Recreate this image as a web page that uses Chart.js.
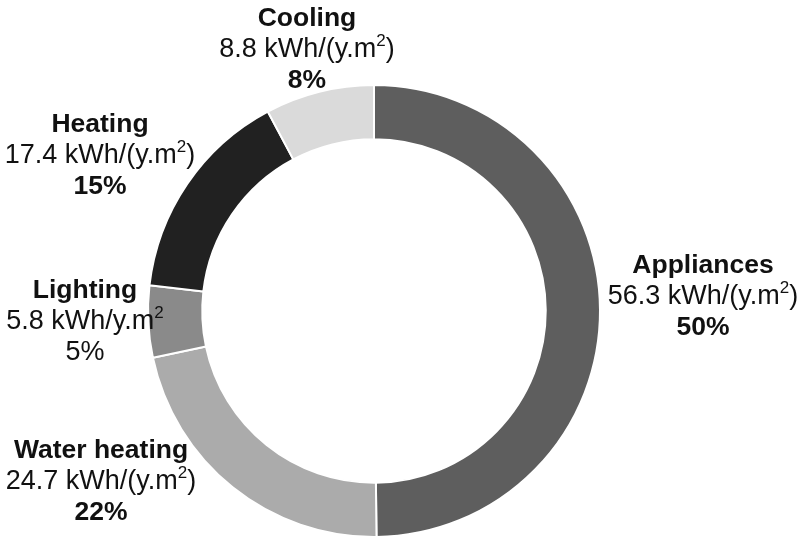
<!DOCTYPE html>
<html>
<head>
<meta charset="utf-8">
<script src="https://cdn.jsdelivr.net/npm/chart.js@4.4.1/dist/chart.umd.min.js"></script>
<style>
  html, body { margin: 0; padding: 0; background: #ffffff; }
  #wrap { width: 800px; height: 540px; position: relative; }
</style>
</head>
<body>
<div id="wrap"><canvas id="energy-chart"></canvas></div>
<script>
// Energy use by end use, kWh per year per m2
const categories = ['Appliances', 'Water heating', 'Lighting', 'Heating', 'Cooling'];
const consumption = [56.3, 24.7, 5.8, 17.4, 8.8];
const units = ['kWh/(y.m²)', 'kWh/(y.m²)', 'kWh/y.m²', 'kWh/(y.m²)', 'kWh/(y.m²)'];
const shares = ['50%', '22%', '5%', '15%', '8%'];
const shareBold = [true, true, false, true, true];
const sliceColors = ['#5e5e5e', '#ababab', '#8a8a8a', '#212121', '#dadada'];

// where each label block sits, relative to the ring centre
const labelOffsets = [[329, -38], [-273, 147], [-289, -13], [-274, -179], [-67, -285]];

const FONT = '"Liberation Sans", Arial, sans-serif';
const BOLD_SIZE = 26.5;
const TEXT_SIZE = 27;
const LINE = 31;

// draws text with the ² glyph set as a raised, smaller digit
function drawWithSuperscript(ctx, text, cx, y, weight, size) {
    const parts = text.split('²');
    const small = Math.round(size * 0.62);
    const widths = parts.map(p => {
        ctx.font = weight + ' ' + size + 'px ' + FONT;
        return ctx.measureText(p).width;
    });
    ctx.font = weight + ' ' + small + 'px ' + FONT;
    const supW = ctx.measureText('2').width;
    const total = widths.reduce((a, b) => a + b, 0) + supW * (parts.length - 1);
    let x = cx - total / 2;
    parts.forEach((p, i) => {
        ctx.font = weight + ' ' + size + 'px ' + FONT;
        ctx.fillText(p, x, y);
        x += widths[i];
        if (i < parts.length - 1) {
            ctx.font = weight + ' ' + small + 'px ' + FONT;
            ctx.fillText('2', x, y - size * 0.4);
            x += supW;
        }
    });
}

const sliceLabels = {
    id: 'sliceLabels',
    afterDraw(chart) {
        const ctx = chart.ctx;
        const arcs = chart.getDatasetMeta(0).data;
        ctx.save();
        ctx.fillStyle = '#111111';
        ctx.textAlign = 'left';
        ctx.textBaseline = 'alphabetic';
        arcs.forEach((arc, i) => {
            const cx = arc.x + labelOffsets[i][0];
            const y = arc.y + labelOffsets[i][1];
            drawWithSuperscript(ctx, categories[i], cx, y, 'bold', BOLD_SIZE);
            drawWithSuperscript(ctx, consumption[i].toFixed(1) + ' ' + units[i], cx, y + LINE, 'normal', TEXT_SIZE);
            drawWithSuperscript(ctx, shares[i], cx, y + LINE * 2,
                shareBold[i] ? 'bold' : 'normal', shareBold[i] ? BOLD_SIZE : TEXT_SIZE);
        });
        ctx.restore();
    }
};

const ctx = document.getElementById('energy-chart').getContext('2d');
const energyChart = new Chart(ctx, {
    type: 'doughnut',
    data: {
        labels: categories,
        datasets: [
            {
                data: consumption,
                backgroundColor: sliceColors,
                borderColor: '#ffffff',
                borderWidth: 2
            }
        ]
    },
    options: {
        responsive: true,
        maintainAspectRatio: false,
        animation: false,
        cutout: '76%',
        layout: {
            padding: { top: 84, bottom: 2, left: 0, right: 52 }
        },
        plugins: {
            legend: { display: false },
            tooltip: { enabled: false }
        }
    },
    plugins: [sliceLabels]
});
</script>
</body>
</html>
